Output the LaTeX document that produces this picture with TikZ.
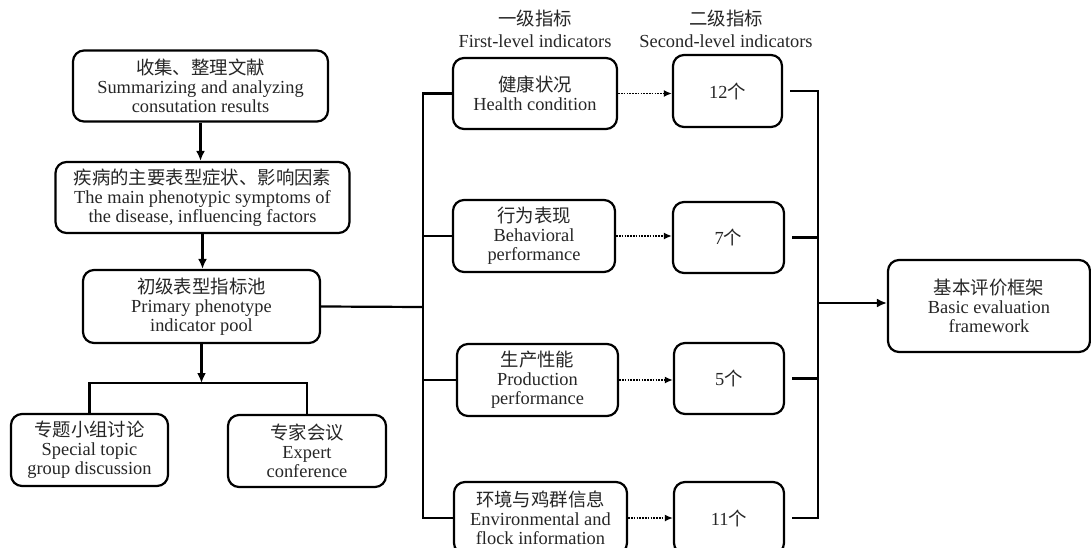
\documentclass[tikz,border=0pt]{standalone}
\usepackage{fontspec}
\setmainfont{Liberation Serif}
\newfontfamily\cjk{Noto Sans CJK SC}
\usetikzlibrary{arrows.meta}
\begin{document}
\begin{tikzpicture}[x=1pt,y=-1pt,
  box/.style={draw, line width=2.2pt, rounded corners=11pt, align=center, inner sep=0pt,
    font=\fontsize{18.4}{18.8}\selectfont, text=black!85},
  hdr/.style={align=center, inner sep=0pt, font=\fontsize{18.4}{22}\selectfont, text=black!85},
  conn/.style={line width=2.2pt},
  arr/.style={line width=2.2pt, -{Latex[length=10pt,width=9pt]}},
  darr/.style={line width=1.8pt, dash pattern=on 1.6pt off 1.2pt, -{Latex[length=8pt,width=7pt]}}]
\fill[white] (0,0) rectangle (1091,548);
\useasboundingbox (0,0) rectangle (1091,548);

% left column
\node[box, minimum width=255pt, minimum height=71pt] (b1) at (200.5,86)
  {{\cjk 收集、整理文献}\\Summarizing and analyzing\\consutation results};
\node[box, minimum width=294pt, minimum height=71pt] (b2) at (202.5,197.5)
  {{\cjk 疾病的主要表型症状、影响因素}\\The main phenotypic symptoms of\\the disease, influencing factors};
\node[box, minimum width=237pt, minimum height=73pt] (b3) at (201.5,306.5)
  {{\cjk 初级表型指标池}\\Primary phenotype\\indicator pool};
\node[box, minimum width=157pt, minimum height=72pt] (b4) at (89.5,450)
  {{\cjk 专题小组讨论}\\Special topic\\group discussion};
\node[box, minimum width=158pt, minimum height=72pt] (b5) at (307,451)
  {{\cjk 专家会议}\\Expert\\conference};

% headers
\node[hdr] (t1) at (535,29) {{\cjk 一级指标}\\First-level indicators};
\node[hdr] (t2) at (726,29) {{\cjk 二级指标}\\Second-level indicators};

% first-level
\node[box, minimum width=164pt, minimum height=71pt] (h1) at (535,93.5)
  {{\cjk 健康状况}\\Health condition};
\node[box, minimum width=162pt, minimum height=72pt] (h2) at (534,236)
  {{\cjk 行为表现}\\Behavioral\\performance};
\node[box, minimum width=161pt, minimum height=72pt] (h3) at (537.5,380)
  {{\cjk 生产性能}\\Production\\performance};
\node[box, minimum width=173pt, minimum height=72pt] (h4) at (540.5,518)
  {{\cjk 环境与鸡群信息}\\Environmental and\\flock information};

% second-level
\node[box, minimum width=109pt, minimum height=72pt] (s1) at (727.5,91) {12{\cjk 个}};
\node[box, minimum width=111pt, minimum height=71pt] (s2) at (728.5,237.5) {7{\cjk 个}};
\node[box, minimum width=110pt, minimum height=71pt] (s3) at (729,378.5) {5{\cjk 个}};
\node[box, minimum width=110pt, minimum height=72pt] (s4) at (729,518) {11{\cjk 个}};

% final
\node[box, minimum width=202pt, minimum height=92pt] (f) at (989,306)
  {{\cjk 基本评价框架}\\Basic evaluation\\framework};

% left column connectors
\draw[arr] (b1.south) -- (b1.south |- b2.north);
\draw[arr] (b2.south) -- (b2.south |- b3.north);
\coordinate (j1) at (198,383);
\draw[arr] (b3.south) -- (b3.south |- j1);
\draw[conn] (b4.north) |- (j1) -| (b5.north);

% left bus
\coordinate (bus1) at (423,307);
\draw[conn] (b3.east) -- (bus1);
\draw[conn] (h1.west) -| (bus1) |- (h4.west);
\draw[conn] (h2.west) -- (h2.west -| bus1);
\draw[conn] (h3.west) -- (h3.west -| bus1);

% dotted arrows
\draw[darr] (h1.east) -- (h1.east -| s1.west);
\draw[darr] (h2.east) -- (h2.east -| s2.west);
\draw[darr] (h3.east) -- (h3.east -| s3.west);
\draw[darr] (h4.east) -- (h4.east -| s4.west);

% right bus
\coordinate (bus2) at (818,303);
\coordinate (r1) at ([xshift=7pt]s1.east);
\coordinate (r2) at ([xshift=7pt]s2.east);
\coordinate (r3) at ([xshift=7pt]s3.east);
\coordinate (r4) at ([xshift=7pt]s4.east);
\draw[conn] (r1) -| (bus2) |- (r4);
\draw[conn] (r2) -- (r2 -| bus2);
\draw[conn] (r3) -- (r3 -| bus2);
\draw[arr] (bus2) -- (bus2 -| f.west);
\end{tikzpicture}
\end{document}
